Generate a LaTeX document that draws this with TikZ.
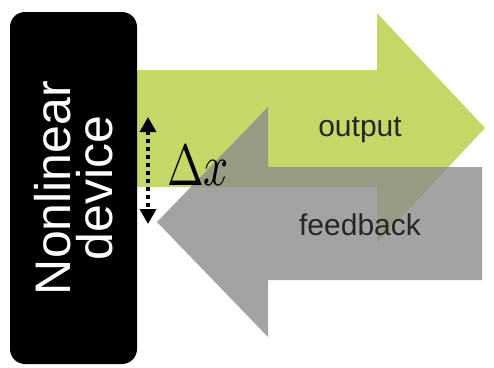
\documentclass[tikz,border=0pt]{standalone}
\usepackage{fontspec}
\setmainfont{Liberation Sans}
\usetikzlibrary{arrows.meta}
\definecolor{outgreen}{RGB}{196,216,104}
\definecolor{backgray}{RGB}{140,140,140}
\begin{document}
\begin{tikzpicture}[x=1pt, y=-1pt,
    label text/.style={text=black!85, font=\fontsize{30}{32}\selectfont}]
        \useasboundingbox (0,0) rectangle (494,367);

        % Output arrow (to the right)
        \fill [outgreen] (120,70) -- (377,70) -- (377,13) -- (485,128) -- (377,243) -- (377,187) -- (120,187) -- cycle;

        % Feedback arrow (back to the left)
        \fill [backgray, fill opacity=0.8] (482,167) -- (268,167) -- (268,107) -- (157,222) -- (268,337) -- (268,280) -- (482,280) -- cycle;

        % The device itself
        \node [fill=black, rounded corners=15pt, rotate=90, minimum width=352pt, minimum height=127pt,
               text=white, align=center, font=\fontsize{50}{42}\selectfont] (device) at (73.5,188) {Nonlinear\\device};

        % Labels
        \node [label text] (output) at (360,130) {output};
        \node [label text] (feedback) at (360,225) {feedback};
        \node [inner sep=0pt, anchor=base west] (dx) at (167,185) {\scalebox{4.4}[5.8]{$\Delta x$}};

        % Displacement
        \coordinate (dxtop) at (148,117);
        \coordinate (dxbot) at (148,224);
        \draw [line width=3.5pt, dash pattern=on 4pt off 4pt, {Triangle[length=15pt,width=16pt]}-{Triangle[length=15pt,width=16pt]}] (dxtop) -- (dxbot);
    \end{tikzpicture}
\end{document}
